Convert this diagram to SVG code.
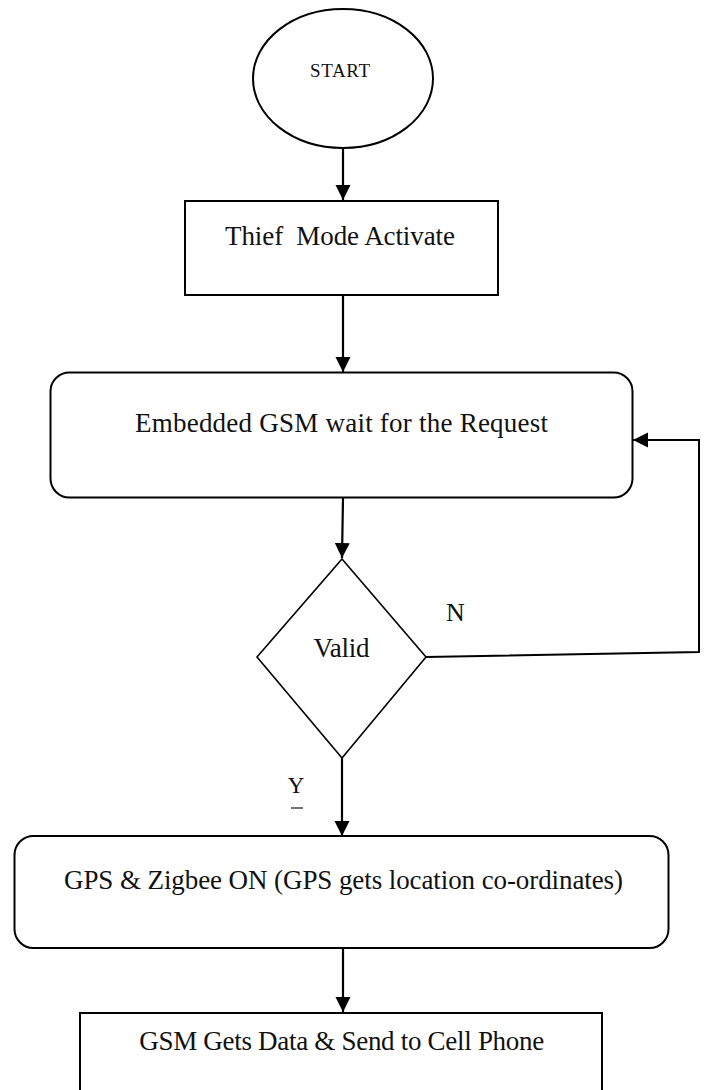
<svg xmlns="http://www.w3.org/2000/svg" width="705" height="1090" viewBox="0 0 705 1090">
<style>
.shape{fill:#fff;stroke:#000;stroke-width:2}
.thin{fill:#fff;stroke:#000;stroke-width:1.6}
.lbl{font-family:"Liberation Serif","DejaVu Serif",serif;font-size:27px;fill:#111;text-anchor:middle}
.conn{fill:none;stroke:#000;stroke-width:2.2}
</style>
<defs>
<marker id="arr" markerUnits="userSpaceOnUse" markerWidth="16" markerHeight="16" viewBox="0 0 16 16" refX="15" refY="7.5" orient="auto">
<path d="M0,0 L15,7.5 L0,15 z" fill="#000"/>
</marker>
</defs>
<rect width="705" height="1090" fill="#fff"/>
<g id="start">
<ellipse class="shape" cx="343" cy="78.5" rx="90" ry="69.5"/>
<text class="lbl" x="340" y="77" style="font-size:19px" textLength="60">START</text>
</g>
<g id="thief">
<rect class="shape" x="185" y="201" width="313" height="94"/>
<text class="lbl" x="340" y="245" xml:space="preserve" textLength="230">Thief  Mode Activate</text>
</g>
<g id="wait">
<rect class="shape" x="50.5" y="372.5" width="582" height="125" rx="19" ry="19"/>
<text class="lbl" x="341.5" y="432" textLength="413">Embedded GSM wait for the Request</text>
</g>
<g id="valid">
<polygon class="thin" points="342,559 426,657 342,758 257,657"/>
<text class="lbl" x="341.5" y="657" textLength="56">Valid</text>
</g>
<g id="gps">
<rect class="shape" x="14.5" y="836" width="654" height="112" rx="19" ry="19"/>
<text class="lbl" x="343.5" y="889" textLength="559">GPS &amp; Zigbee ON (GPS gets location co-ordinates)</text>
</g>
<g id="gsm">
<rect class="shape" x="80" y="1013" width="522" height="100"/>
<text class="lbl" x="341.7" y="1050" textLength="405">GSM Gets Data &amp; Send to Cell Phone</text>
</g>
<g id="connectors">
<line class="conn" x1="343" y1="148" x2="343" y2="200" marker-end="url(#arr)"/>
<line class="conn" x1="343" y1="295" x2="343" y2="372" marker-end="url(#arr)"/>
<line class="conn" x1="343" y1="498" x2="342" y2="558" marker-end="url(#arr)"/>
<polyline class="conn" points="426,657 699,652 699,440 633,440" marker-end="url(#arr)" style="stroke-width:2"/>
<line class="conn" x1="342" y1="758" x2="342" y2="836" marker-end="url(#arr)"/>
<line class="conn" x1="343" y1="948" x2="343" y2="1012" marker-end="url(#arr)"/>
</g>
<g id="labels">
<text class="lbl" x="455.5" y="621" style="font-size:26px">N</text>
<text class="lbl" x="296" y="793" style="font-size:23px">Y</text>
<line x1="291" y1="808" x2="303" y2="808" stroke="#444" stroke-width="1.5"/>
</g>
</svg>
